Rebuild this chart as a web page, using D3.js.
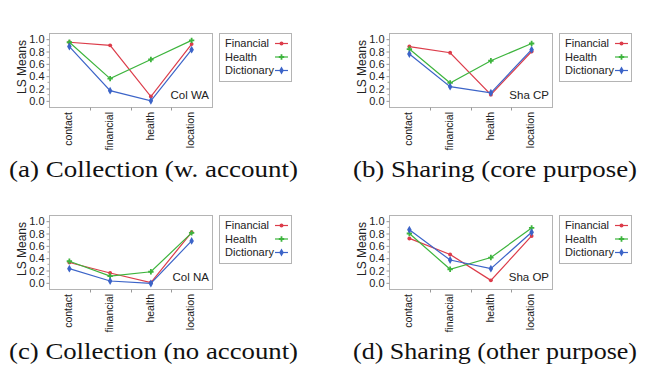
<!DOCTYPE html>
<html>
<head>
<meta charset="utf-8">
<script src="https://cdn.jsdelivr.net/npm/d3@7"></script>
<style>
  body { margin: 0; background: #fff; }
  svg { display: block; }
  .sans { font-family: "Liberation Sans", Arial, Helvetica, sans-serif; }
  .serif { font-family: "Liberation Serif", "Times New Roman", Times, serif; }
</style>
</head>
<body>
<div id="chart"></div>
<script>
// categories on the x axis and the three series
var categories = ["contact", "financial", "health", "location"];
var seriesNames = ["Financial", "Health", "Dictionary"];
var seriesColors = ["#dc3c4a", "#3db43d", "#3c64c8"];

// LS means per panel, one row per series (Financial, Health, Dictionary)
var colWA = [[0.95, 0.90, 0.07, 0.92], [0.95, 0.36, 0.67, 0.98], [0.88, 0.165, 0.0, 0.83]];
var shaCP = [[0.88, 0.78, 0.10, 0.80], [0.84, 0.29, 0.65, 0.93], [0.76, 0.23, 0.13, 0.83]];
var colNA = [[0.33, 0.16, 0.005, 0.82], [0.35, 0.11, 0.18, 0.81], [0.23, 0.03, -0.01, 0.68]];
var shaOP = [[0.72, 0.46, 0.04, 0.76], [0.80, 0.22, 0.41, 0.89], [0.86, 0.37, 0.23, 0.82]];

var panelData = [colWA, shaCP, colNA, shaOP];
var panelTags = ["Col WA", "Sha CP", "Col NA", "Sha OP"];
var captions = ["(a) Collection (w. account)", "(b) Sharing (core purpose)",
                "(c) Collection (no account)", "(d) Sharing (other purpose)"];
var yTicks = [0, 0.2, 0.4, 0.6, 0.8, 1.0];

var W = 649, H = 371;
var colX = [49, 389], rowY = [33, 215];
var frameW = 163, frameH = 74;
var capX = [9, 353], capW = [289, 284];

var svg = d3.select("#chart").append("svg")
  .attr("width", W).attr("height", H);

var symbols = [d3.symbolCircle, d3.symbolCross, d3.symbolDiamond];
var symSizes = [12, 16, 18];

panelData.forEach(function (data, p) {
  var col = p % 2, row = Math.floor(p / 2);
  var x0 = colX[col], y0 = rowY[row];

  var x = d3.scalePoint().domain(categories).range([x0, x0 + frameW]).padding(0.5);
  var y = d3.scaleLinear().domain([-0.1, 1.1]).range([y0 + frameH, y0]);

  var g = svg.append("g");

  // frame
  g.append("rect")
    .attr("x", x0 + 0.5).attr("y", y0 + 0.5)
    .attr("width", frameW).attr("height", frameH)
    .attr("fill", "none").attr("stroke", "#b4b4b4");

  // y axis ticks and labels
  var yAxis = g.append("g")
    .attr("transform", "translate(" + (x0 + 0.5) + ",0)")
    .call(d3.axisLeft(y).tickValues(yTicks).tickFormat(d3.format(".1f")).tickSize(3).tickPadding(2));
  yAxis.attr("font-family", null).attr("font-size", null);
  yAxis.select(".domain").remove();
  yAxis.selectAll("line").attr("stroke", "#999");
  yAxis.selectAll("text")
    .attr("class", "sans")
    .style("font-size", "11px").attr("fill", "#222");

  // minor y ticks
  g.selectAll(".minor").data([0.1, 0.3, 0.5, 0.7, 0.9]).enter().append("line")
    .attr("x1", x0 + 0.5).attr("x2", x0 - 1.5)
    .attr("y1", function (d) { return y(d); }).attr("y2", function (d) { return y(d); })
    .attr("stroke", "#aaa");

  // x ticks between categories
  var step = x.step();
  g.selectAll(".xt").data(categories.slice(1)).enter().append("line")
    .attr("x1", function (d) { return Math.round(x(d) - step / 2) + 0.5; })
    .attr("x2", function (d) { return Math.round(x(d) - step / 2) + 0.5; })
    .attr("y1", y0 + frameH + 0.5).attr("y2", y0 + frameH + 3.5)
    .attr("stroke", "#999");

  // category labels
  g.selectAll(".cat").data(categories).enter().append("text")
    .attr("class", "sans")
    .attr("transform", function (d) {
      return "translate(" + (x(d) - 1) + "," + (y0 + frameH + 5) + ") rotate(-90)";
    })
    .attr("text-anchor", "end").attr("dy", "0.35em")
    .style("font-size", "10.5px").attr("fill", "#222")
    .text(function (d) { return d; });

  // y axis title
  g.append("text")
    .attr("class", "sans")
    .attr("transform", "translate(" + (x0 - 27) + "," + (y0 + frameH / 2 - 3) + ") rotate(-90)")
    .attr("text-anchor", "middle").attr("dy", "0.35em")
    .style("font-size", "12px").attr("fill", "#222")
    .text("LS Means");

  // lines
  var line = d3.line()
    .x(function (d, i) { return x(categories[i]); })
    .y(function (d) { return y(d); });

  data.forEach(function (vals, s) {
    g.append("path")
      .attr("d", line(vals))
      .attr("fill", "none")
      .attr("stroke", seriesColors[s])
      .attr("stroke-width", 1.2);
    g.selectAll(".pt" + s).data(vals).enter().append("path")
      .attr("transform", function (d, i) { return "translate(" + x(categories[i]) + "," + y(d) + ")"; })
      .attr("d", d3.symbol().type(symbols[s]).size(symSizes[s]))
      .attr("fill", seriesColors[s]);
  });

  // panel tag
  g.append("text")
    .attr("class", "sans")
    .attr("x", x0 + frameW - 3).attr("y", y0 + frameH - 8)
    .attr("text-anchor", "end")
    .style("font-size", "11.5px").attr("fill", "#222")
    .text(panelTags[p]);

  // legend
  var lx = x0 + frameW + 7, ly = y0;
  g.append("rect")
    .attr("x", lx + 0.5).attr("y", ly + 0.5)
    .attr("width", 72).attr("height", 48)
    .attr("fill", "none").attr("stroke", "#b4b4b4");
  seriesNames.forEach(function (name, s) {
    var cy = ly + 10.5 + s * 13.5;
    g.append("text")
      .attr("class", "sans")
      .attr("x", lx + 6).attr("y", cy).attr("dy", "0.35em")
      .style("font-size", "11px").attr("fill", "#222")
      .text(name);
    g.append("line")
      .attr("x1", lx + 56).attr("x2", lx + 69)
      .attr("y1", cy).attr("y2", cy)
      .attr("stroke", seriesColors[s]).attr("stroke-width", 1.2);
    g.append("path")
      .attr("transform", "translate(" + (lx + 62.5) + "," + cy + ")")
      .attr("d", d3.symbol().type(symbols[s]).size(symSizes[s]))
      .attr("fill", seriesColors[s]);
  });

  // caption
  svg.append("text")
    .attr("class", "serif")
    .attr("x", capX[col]).attr("y", y0 + 144)
    .attr("textLength", capW[col]).attr("lengthAdjust", "spacingAndGlyphs")
    .style("font-size", "24px").attr("fill", "#111")
    .text(captions[p]);
});
</script>
</body>
</html>
